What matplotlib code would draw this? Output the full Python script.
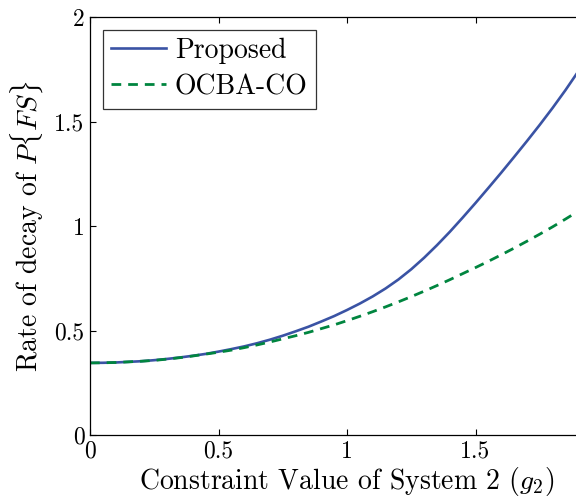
import numpy as np
import matplotlib
matplotlib.use("Agg")
import matplotlib.pyplot as plt

# =========================
# DATA
# =========================
g2 = [0.00, 0.05, 0.10, 0.15, 0.20, 0.25, 0.30, 0.35, 0.40, 0.45,
      0.50, 0.55, 0.60, 0.65, 0.70, 0.75, 0.80, 0.85, 0.90, 0.95,
      1.00, 1.05, 1.10, 1.15, 1.20, 1.25, 1.30, 1.35, 1.40, 1.45,
      1.50, 1.55, 1.60, 1.65, 1.70, 1.75, 1.80, 1.85, 1.90]
proposed = [0.345, 0.3455, 0.347, 0.350, 0.353, 0.358, 0.364, 0.371, 0.379, 0.388,
            0.399, 0.411, 0.424, 0.439, 0.456, 0.475, 0.496, 0.518, 0.543, 0.569,
            0.598, 0.629, 0.663, 0.701, 0.744, 0.793, 0.848, 0.908, 0.972, 1.040,
            1.110, 1.182, 1.255, 1.330, 1.406, 1.484, 1.565, 1.650, 1.740]
ocba_co = [0.345, 0.3455, 0.347, 0.350, 0.353, 0.357, 0.363, 0.370, 0.378, 0.387,
           0.396, 0.406, 0.418, 0.431, 0.445, 0.460, 0.475, 0.491, 0.509, 0.527,
           0.547, 0.568, 0.590, 0.613, 0.637, 0.662, 0.688, 0.715, 0.743, 0.772,
           0.801, 0.831, 0.862, 0.894, 0.927, 0.961, 0.996, 1.033, 1.071]

x_ticks = [0, 0.5, 1, 1.5]
x_ticklabels = ["0", "0.5", "1", "1.5"]
y_ticks = [0, 0.5, 1, 1.5, 2]
y_ticklabels = ["0", "0.5", "1", "1.5", "2"]

BLUE = "#3a53a4"
GREEN = "#00853f"

# =========================
# STYLE
# =========================
plt.rcParams["font.family"] = "cmr10"
plt.rcParams["mathtext.fontset"] = "cm"
plt.rcParams["axes.unicode_minus"] = False
plt.rcParams["axes.formatter.use_mathtext"] = True

W, H = 576, 499
fig = plt.figure(figsize=(W / 100, H / 100), dpi=100)
# axes frame: x=0 at px 90, x=2 at px 604 (cut off), y=0 at px 435, y=2 at px 17
ax = fig.add_axes([90 / W, (H - 435) / H, 514 / W, 418 / H])

ax.plot(g2, proposed, color=BLUE, lw=1.9, label="Proposed")
ax.plot(g2, ocba_co, color=GREEN, lw=2.0, dashes=(3.5, 2.5), label="OCBA-CO")

ax.set_xlim(0, 2)
ax.set_ylim(0, 2)
ax.set_xticks(x_ticks)
ax.set_xticklabels(x_ticklabels)
ax.set_yticks(y_ticks)
ax.set_yticklabels(y_ticklabels)

ax.tick_params(direction="in", top=True, right=True, length=4, width=0.8,
               labelsize=17, pad=4)
for s in ax.spines.values():
    s.set_linewidth(0.9)

ax.set_xlabel(r"Constraint Value of System 2 ($g_2$)", fontsize=20, labelpad=2)
ax.set_ylabel(r"Rate of decay of $P\{FS\}$", fontsize=20, labelpad=6)

leg = ax.legend(loc="upper left", fontsize=20, frameon=True, fancybox=False,
                edgecolor="black", handlelength=2.0, handletextpad=0.3,
                labelspacing=0.35, borderpad=0.3, borderaxespad=0.45)
leg.get_frame().set_linewidth(0.9)

fig.savefig("out.png", dpi=100)
